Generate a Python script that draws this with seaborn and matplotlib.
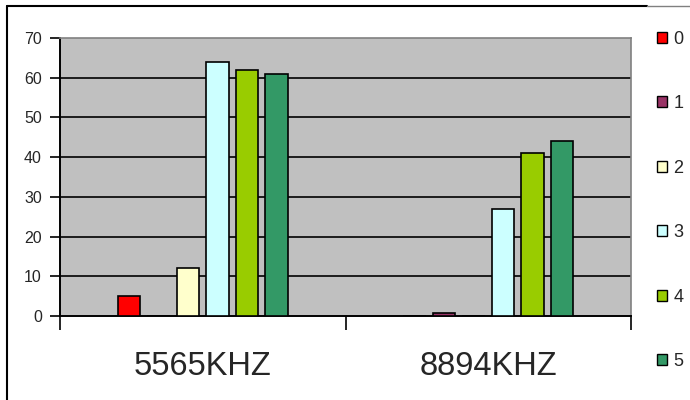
import matplotlib
matplotlib.use('Agg')
import matplotlib.pyplot as plt
from matplotlib.lines import Line2D
import pandas as pd
import seaborn as sns

groups = ['5565KHZ', '8894KHZ']
series = ['0', '1', '2', '3', '4', '5']
vals_5565 = [5, 0, 12, 64, 62, 61]
vals_8894 = [0, 0.8, 0, 27, 41, 44]
colors = ['#FF0000', '#993366', '#FFFFCC', '#CCFFFF', '#99CC00', '#339966']

df = pd.DataFrame({
    'freq': [groups[0]] * 6 + [groups[1]] * 6,
    'series': series + series,
    'value': vals_5565 + vals_8894,
})

sns.set_style('white')
plt.rcParams['font.family'] = ['Liberation Sans', 'DejaVu Sans']

fig = plt.figure(figsize=(6.9, 4.0), dpi=100)
ax = fig.add_axes([0.087, 0.21, 0.8275, 0.695])
ax.set_facecolor('#C0C0C0')

sns.barplot(data=df, x='freq', y='value', hue='series', hue_order=series,
            palette=dict(zip(series, colors)), width=0.62, gap=0.24,
            edgecolor='black', linewidth=1.2, saturation=1, ax=ax, zorder=3)

ax.set_xlim(-0.5, 1.5)
ax.set_ylim(0, 70)
ax.set_yticks(range(0, 71, 10))
for y in range(10, 70, 10):
    ax.axhline(y, color='black', lw=1.2, zorder=1)

ax.set_xlabel('')
ax.set_ylabel('')
ax.set_xticks([0, 1])
ax.set_xticklabels(groups, fontsize=23.5)
ax.set_xticks([-0.5, 0.5, 1.5], minor=True)
ax.tick_params(axis='x', which='major', length=0, pad=25)
ax.tick_params(axis='x', which='minor', length=10, width=1.2, color='black', direction='out', bottom=True)
ax.tick_params(axis='y', length=7, width=1.2, color='black', direction='out', left=True, labelsize=11.5, pad=6)

for side in ['left', 'bottom']:
    ax.spines[side].set_color('black')
    ax.spines[side].set_linewidth(1.4)
for side in ['top', 'right']:
    ax.spines[side].set_color('#808080')
    ax.spines[side].set_linewidth(1.2)

ax.get_legend().remove()
handles = [plt.Rectangle((0, 0), 1, 1, facecolor=c, edgecolor='black', lw=1) for c in colors]
fig.legend(handles, series, loc='upper left', bbox_to_anchor=(0.952, 0.9235), frameon=False,
           prop={'size': 13},
           handlelength=0.55, handleheight=0.55, handletextpad=0.35, labelspacing=2.63,
           borderaxespad=0, borderpad=0)

# outer chart-area frame (partly clipped like the original)
fig.add_artist(Line2D([0.0105, 0.938], [0.984, 0.984], transform=fig.transFigure, color='black', lw=1.5))
fig.add_artist(Line2D([0.938, 1.0], [0.984, 0.984], transform=fig.transFigure, color='#808080', lw=1))
fig.add_artist(Line2D([0.0105, 0.0105], [0.0, 0.984], transform=fig.transFigure, color='black', lw=1.5))

fig.savefig('out.png', dpi=100, facecolor='white')
